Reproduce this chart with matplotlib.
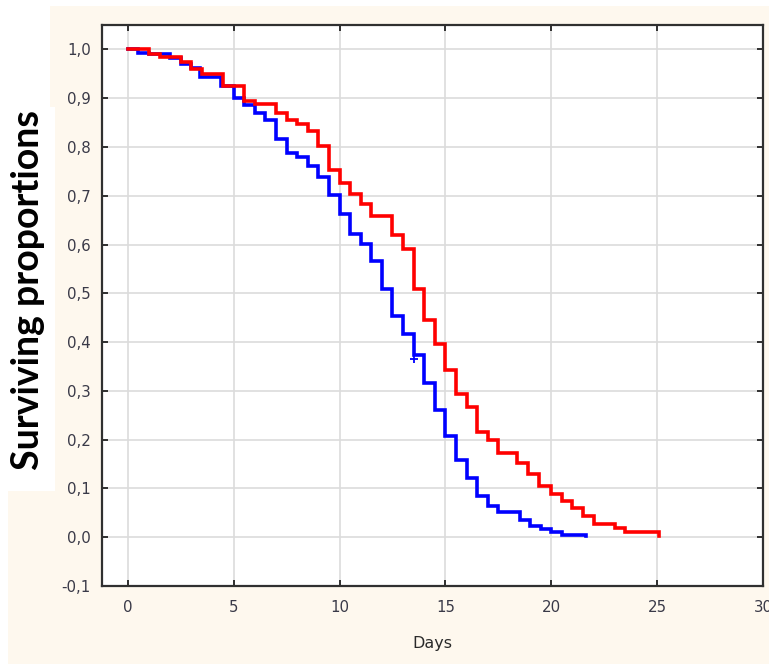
import matplotlib
matplotlib.use("Agg")
import matplotlib.pyplot as plt
from matplotlib.patches import Rectangle
from matplotlib.ticker import FuncFormatter, MultipleLocator

# Kaplan-Meier style step curves (change points in days, survival after the step)
red_days = [0, 1.0, 1.5, 2.5, 3.0, 3.5, 4.5, 5.5, 6.0, 7.0, 7.5, 8.0, 8.5, 9.0,
            9.5, 10.0, 10.5, 11.0, 11.5, 12.5, 13.0, 13.5, 14.0, 14.5, 15.0,
            15.5, 16.0, 16.5, 17.0, 17.5, 18.4, 18.9, 19.4, 20.0, 20.5, 21.0,
            21.5, 22.0, 23.0, 23.5, 25.08]
red_surv = [1.0, 0.990, 0.984, 0.975, 0.959, 0.949, 0.925, 0.894, 0.888, 0.870,
            0.855, 0.847, 0.832, 0.802, 0.753, 0.727, 0.704, 0.684, 0.659,
            0.619, 0.590, 0.508, 0.446, 0.397, 0.343, 0.293, 0.266, 0.216,
            0.199, 0.172, 0.153, 0.129, 0.104, 0.089, 0.074, 0.059, 0.043,
            0.027, 0.018, 0.010, 0.002]

blue_days = [0, 0.5, 1.0, 2.0, 2.5, 3.0, 3.4, 4.4, 5.0, 5.5, 6.0, 6.5, 7.0, 7.5,
             8.0, 8.5, 9.0, 9.5, 10.0, 10.5, 11.0, 11.5, 12.0, 12.5, 13.0, 13.5,
             14.0, 14.5, 15.0, 15.5, 16.0, 16.5, 17.0, 17.5, 18.5, 19.0, 19.5,
             20.0, 20.5, 21.62]
blue_surv = [1.0, 0.993, 0.990, 0.982, 0.970, 0.961, 0.943, 0.925, 0.900, 0.886,
             0.869, 0.855, 0.816, 0.787, 0.779, 0.761, 0.739, 0.701, 0.662,
             0.621, 0.602, 0.566, 0.508, 0.453, 0.416, 0.373, 0.316, 0.261,
             0.208, 0.158, 0.121, 0.085, 0.065, 0.051, 0.036, 0.024, 0.017,
             0.010, 0.004, 0.003]

# censored observation on the blue curve
blue_censor_day = [13.52]
blue_censor_surv = [0.365]

W, H = 769, 664
CREAM = "#fef8ee"

plt.rcParams["font.family"] = ["DejaVu Sans"]


def px_rect(x0, y0, x1, y1, color):
    # rectangle in pixel coords measured from the top-left corner
    return Rectangle((x0 / W, 1 - y1 / H), (x1 - x0) / W, (y1 - y0) / H,
                     transform=fig.transFigure, facecolor=color,
                     edgecolor="none", zorder=-10)


fig = plt.figure(figsize=(W / 100, H / 100), dpi=100)
fig.patch.set_facecolor("white")
fig.add_artist(px_rect(50, 6, W, 107, CREAM))
fig.add_artist(px_rect(55, 107, W, 491, CREAM))
fig.add_artist(px_rect(8, 491, W, H, CREAM))

ax = fig.add_axes([102 / W, 1 - 586 / H, (763 - 102) / W, (586 - 25) / H])
ax.set_facecolor("white")

ax.plot(blue_days, blue_surv, drawstyle="steps-post", color="#0000ff",
        lw=2.6, solid_joinstyle="miter", zorder=3)
ax.plot(red_days, red_surv, drawstyle="steps-post", color="#ff0000",
        lw=2.6, solid_joinstyle="miter", zorder=4)
ax.plot(blue_censor_day, blue_censor_surv, ls="none", marker="+",
        color="#0000ff", ms=6, mew=1.3, zorder=3)

ax.set_xlim(-1.22, 30.0)
ax.set_ylim(-0.1, 1.05)
ax.xaxis.set_major_locator(MultipleLocator(5))
ax.yaxis.set_major_locator(MultipleLocator(0.1))
ax.xaxis.set_major_formatter(FuncFormatter(lambda v, p: f"{v:.0f}"))
ax.yaxis.set_major_formatter(
    FuncFormatter(lambda v, p: f"{v:.1f}".replace(".", ",").replace("-0,0", "0,0")))

ax.grid(True, color="#dcdcdc", lw=1.2, zorder=0)
ax.set_axisbelow(True)
for s in ax.spines.values():
    s.set_color("#303030")
    s.set_linewidth(1.6)

ax.tick_params(direction="in", length=4, width=1.4, color="#303030",
               top=True, right=True, labelsize=10.8, labelcolor="#3a3a48")
ax.tick_params(axis="y", pad=8)
ax.tick_params(axis="x", pad=10)

ax.set_xlabel("Days", fontsize=11.5, color="#2a2a2a", labelpad=15)
fig.text(28 / W, 1 - 290 / H, "Surviving proportions", rotation=90,
         ha="center", va="center", fontsize=27, fontweight="bold",
         family=["Lato", "DejaVu Sans"], color="black")

fig.savefig("out.png", dpi=100, facecolor=fig.get_facecolor())
